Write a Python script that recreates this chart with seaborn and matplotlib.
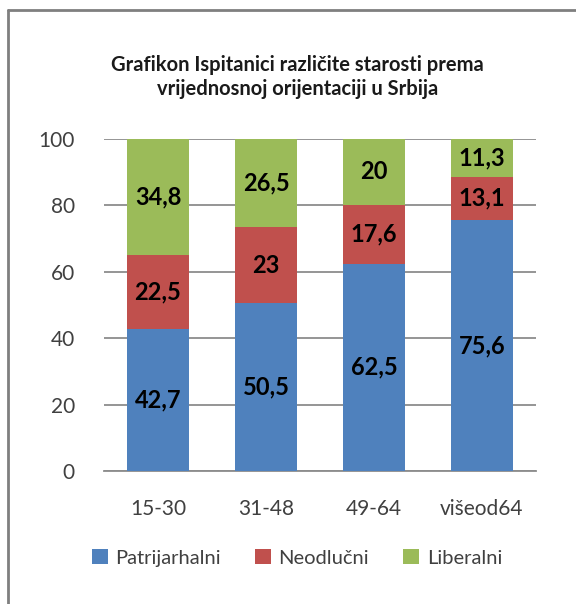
import matplotlib
matplotlib.use("Agg")
import matplotlib.pyplot as plt
import seaborn as sns
import pandas as pd
import numpy as np
from matplotlib.patches import Patch
from matplotlib.lines import Line2D

categories = ["15-30", "31-48", "49-64", "višeod64"]
patrijarhalni = [42.7, 50.5, 62.5, 75.6]
neodlucni = [22.5, 23.0, 17.6, 13.1]
liberalni = [34.8, 26.5, 20.0, 11.3]
series_names = ["Patrijarhalni", "Neodlučni", "Liberalni"]
colors = ["#4F81BD", "#C0504D", "#9BBB59"]
yticks = [0, 20, 40, 60, 80, 100]
title = "Grafikon Ispitanici različite starosti prema\nvrijednosnoj orijentaciji u Srbija"

sns.set_theme(style="white")
plt.rcParams["font.family"] = ["Lato", "DejaVu Sans"]

fig = plt.figure(figsize=(5.76, 6.04), dpi=100)
ax = fig.add_axes([104/576, 1-471/604, (536-104)/576, (471-139)/604])

series = [patrijarhalni, neodlucni, liberalni]
cum = np.cumsum(np.array(series), axis=0)
# draw back to front: cumulative totals
for i in range(2, -1, -1):
    d = pd.DataFrame({"cat": categories, "val": cum[i]})
    sns.barplot(data=d, x="cat", y="val", color=colors[i], saturation=1,
                width=0.57, ax=ax, zorder=3, linewidth=0)

# value labels
for i, s in enumerate(series):
    bottoms = cum[i] - np.array(s)
    for j, v in enumerate(s):
        txt = (f"{v:g}").replace(".", ",")
        ax.text(j, bottoms[j] + v/2, txt, ha="center", va="center",
                fontsize=17, fontweight="bold", color="black", zorder=5)

ax.set_ylim(0, 100)
ax.set_xlim(-0.5, 3.5)
ax.set_yticks(yticks)
ax.yaxis.grid(True, color="#8C8C8C", linewidth=1.3, zorder=0)
ax.set_axisbelow(True)
for sp in ["top", "right", "left"]:
    ax.spines[sp].set_visible(False)
ax.spines["bottom"].set_color("#8C8C8C")
ax.spines["bottom"].set_linewidth(1.3)
ax.set_xlabel("")
ax.set_ylabel("")
ax.tick_params(axis="both", length=0, labelsize=15, colors="#404040")
ax.tick_params(axis="y", pad=21)
ax.tick_params(axis="x", pad=20)

fig.text(0.516, 1-77/604, title, ha="center", va="center", fontsize=14.5,
         fontweight="bold", color="#1a1a1a", linespacing=1.25)

handles = [Patch(facecolor=c, edgecolor="none") for c in colors]
leg = fig.legend(handles, series_names, loc="center", bbox_to_anchor=(0.516, 1-558/604),
                 ncol=3, frameon=False, fontsize=14.5, handlelength=0.75, handleheight=0.75,
                 handletextpad=0.4, columnspacing=1.7)
for t in leg.get_texts():
    t.set_color("#404040")

# chart frame (top and left visible)
fig.add_artist(Line2D([8/576, 1.0], [1-10/604, 1-10/604], transform=fig.transFigure,
                      color="#7F7F7F", linewidth=2))
fig.add_artist(Line2D([8/576, 8/576], [0, 1-10/604], transform=fig.transFigure,
                      color="#7F7F7F", linewidth=2))

fig.savefig("out.png", dpi=100)
